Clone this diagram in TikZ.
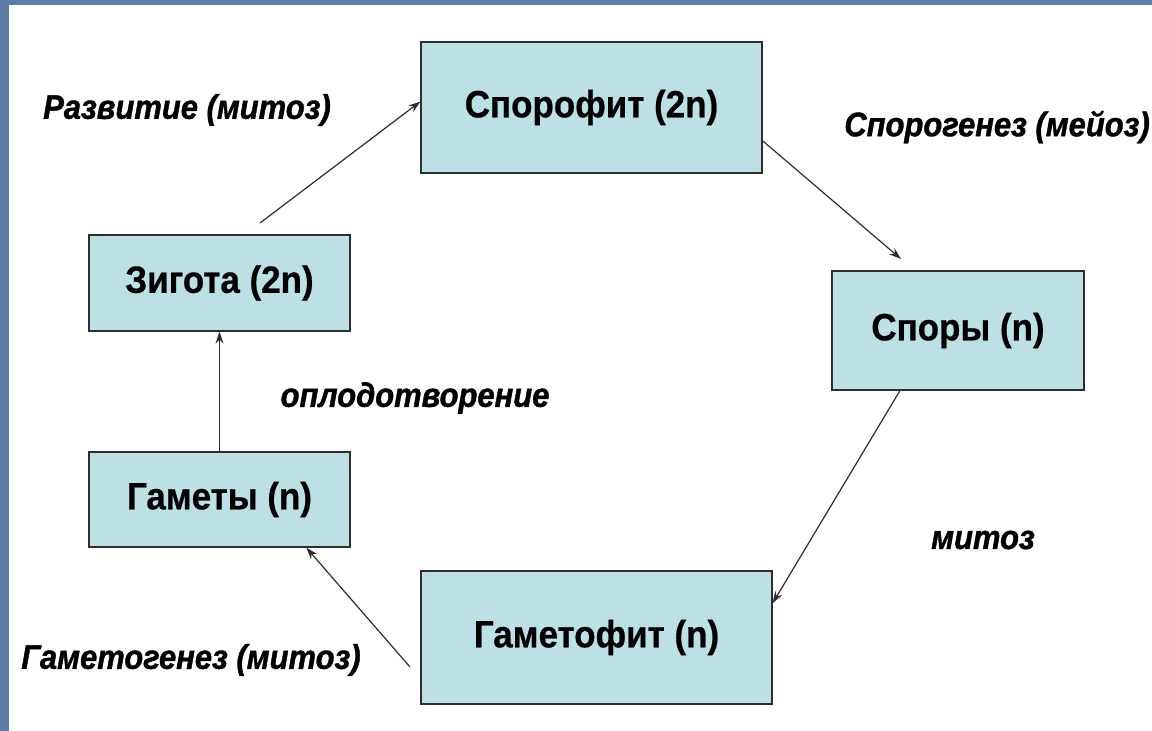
\documentclass[tikz,border=0pt]{standalone}
\usepackage{fontspec}
\setmainfont{Liberation Sans}
\newfontfamily\boxfont[FakeStretch=0.92,FakeBold=0.6]{Liberation Sans}
\newfontfamily\procfont[FakeStretch=0.91,FakeBold=1.2]{Liberation Sans}
\usepackage{tikz}
\usetikzlibrary{arrows.meta}

\definecolor{framecol}{HTML}{5B7DA8}
\definecolor{boxfill}{HTML}{BCE0E4}
\definecolor{linecol}{HTML}{2E2E2E}

\begin{document}
\begin{tikzpicture}[x=1pt, y=-1pt, >={Stealth[length=12pt,width=8pt]},
  stage/.style={draw=linecol, line width=1.2pt, fill=boxfill, inner sep=0pt,
    font=\boxfont\bfseries\fontsize{38}{40}\selectfont},
  process/.style={inner sep=0pt, font=\procfont\bfseries\itshape\fontsize{34}{36}\selectfont},
  link/.style={->, draw=linecol, line width=1.2pt}]
\useasboundingbox (0,0) rectangle (1152,731);
% slide frame
\fill[framecol] (0,0) rectangle (1152,731);
\fill[white] (9,5) rectangle (1152,731);

% ===== stages of the cycle =====
\node[stage, minimum width=341, minimum height=131] (sporophyte) at (591.5,107.5) {Спорофит (2n)};
\node[stage, minimum width=252, minimum height=119] (spores) at (958,330.5) {Споры (n)};
\node[stage, minimum width=351, minimum height=133] (gametophyte) at (596.5,637.5) {Гаметофит (n)};
\node[stage, minimum width=261, minimum height=95] (gametes) at (219.5,499.5) {Гаметы (n)};
\node[stage, minimum width=261, minimum height=96] (zygote) at (219.5,283) {Зигота (2n)};

% ===== processes =====
\node[process] (growth) at (187,110) {Развитие (митоз)};
\node[process, anchor=east] (sporogenesis) at (1150,127) {Спорогенез (мейоз)};
\node[process] (fertilization) at (415,398) {оплодотворение};
\node[process] (mitosis) at (983,540) {митоз};
\node[process] (gametogenesis) at (191,660) {Гаметогенез (митоз)};

% loose arrow ends
\coordinate (zygtop) at (260,223);
\coordinate (sporetop) at (901,259);
\coordinate (gamleft) at (410,667);

% ===== arrows around the cycle =====
\draw[link] (zygtop) -- (sporophyte.178);
\draw[link] (sporophyte.-11.7) -- (sporetop);
\draw[link] (spores.-134) -- (gametophyte.11.1);
\draw[link] (gamleft) -- (gametes.-29.6);
\draw[link] (gametes.north) -- (zygote.south);
\end{tikzpicture}
\end{document}
